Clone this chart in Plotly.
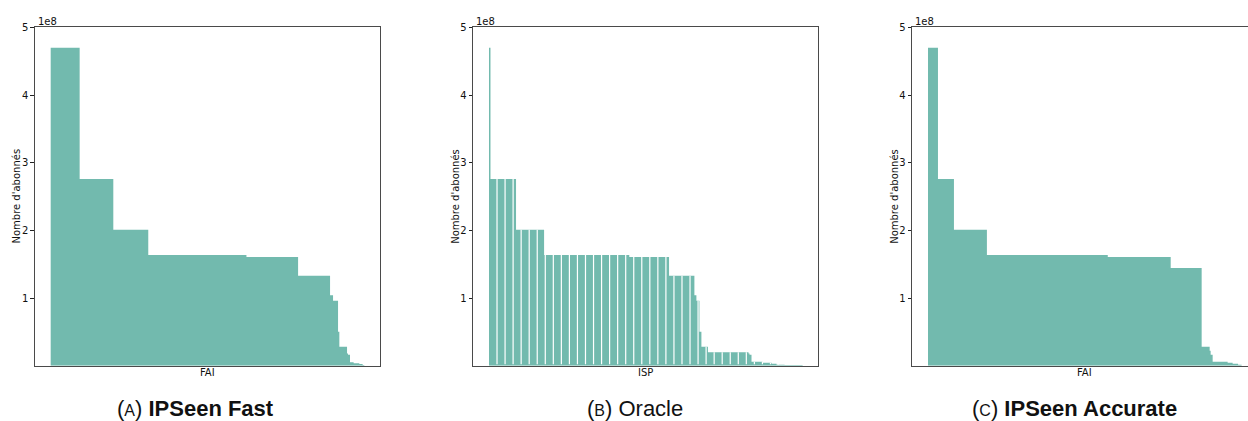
import numpy as np
import plotly.graph_objects as go

# ---------------- data (subscriber counts in units of 1e8, bar widths = share of ISPs) -------------
fast_heights = [4.70, 2.76, 2.01, 1.635, 1.605, 1.33, 1.04, 0.96, 0.50, 0.28, 0.18, 0.16, 0.05, 0.035, 0.025, 0.01]
fast_widths = [29, 33.7, 35, 98.3, 51.7, 32, 3, 5, 1.3, 7.7, 1, 2, 3.6, 5.7, 3.3, 1.7]

oracle_heights = [4.70, 2.76, 2.01, 1.635, 1.605, 1.33, 1.04, 0.96, 0.50, 0.28, 0.20, 0.18, 0.16,
                  0.058, 0.044, 0.03, 0.015, 0.01]
oracle_widths = [1.5, 25.5, 28, 85, 39.7, 25.3, 2, 3, 2, 6.5, 40.5, 1, 2, 11, 9, 5, 8, 18]
oracle_isp_count = 39

accurate_heights = [4.70, 2.76, 2.01, 1.635, 1.605, 1.445, 0.28, 0.22, 0.16, 0.058, 0.044, 0.03, 0.015]
accurate_widths = [10, 16, 33, 121, 63, 31, 8, 1, 2, 15, 5, 5.5, 3.5]

y_scale = 1e8
y_tick_values = [1, 2, 3, 4, 5]
y_tick_labels = ["1", "2", "3", "4", "5"]
x_labels = ["FAI", "ISP", "FAI"]
captions = ["(<span style='font-size:16px'>A</span>) <b>IPSeen Fast</b>",
            "(<span style='font-size:16px'>B</span>) Oracle",
            "(<span style='font-size:16px'>C</span>) <b>IPSeen Accurate</b>"]
y_title = "Nombre d'abonnés"

# ---------------- layout constants ----------------
W, H = 1248, 421
BAR = "#72baae"
SPINE = "#4a4a4a"
FONT = "DejaVu Sans"
panel_left = [35.0, 473.3, 912.3]
panel_w = 345.0
top_px, bot_px = 22.7, 365.0
caption_x = [195, 634.5, 1074]

fig = go.Figure()

series = [(fast_heights, fast_widths), (oracle_heights, oracle_widths), (accurate_heights, accurate_widths)]
annotations = []
shapes = []

for i, (hts, wds) in enumerate(series):
    idx = "" if i == 0 else str(i + 1)
    edges = np.concatenate([[0.0], np.cumsum(wds)])
    S = edges[-1]
    hts_abs = [h * y_scale for h in hts]
    ys = hts_abs + [hts_abs[-1]]
    fig.add_trace(go.Scatter(
        x=edges, y=ys, mode="lines", line=dict(width=0, shape="hv"),
        fill="tozeroy", fillcolor=BAR, hoverinfo="skip", showlegend=False,
        xaxis="x" + idx, yaxis="y" + idx))

    left = panel_left[i]
    right = left + panel_w
    r0 = -0.05 * S
    full_span = 1.1 * S
    if right > W:
        vis = W - left
        right_px = W
        r1 = r0 + full_span * vis / panel_w
    else:
        right_px = right
        r1 = r0 + full_span

    fig.layout["xaxis" + idx] = dict(
        domain=[left / W, right_px / W], range=[r0, r1], anchor="y" + idx,
        showline=True, mirror=True, linecolor=SPINE, linewidth=1.3,
        showticklabels=False, ticks="", showgrid=False, zeroline=False, fixedrange=True)
    fig.layout["yaxis" + idx] = dict(
        domain=[1 - bot_px / H, 1 - top_px / H], range=[0, 5 * y_scale], anchor="x" + idx,
        showline=True, mirror=(right <= W), linecolor=SPINE, linewidth=1.3,
        tickvals=[v * y_scale for v in y_tick_values], ticktext=y_tick_labels,
        ticks="outside", ticklen=3.5, tickwidth=0.8, tickcolor="#222",
        tickfont=dict(family=FONT, size=10, color="#111"),
        showgrid=False, zeroline=False, fixedrange=True)

    # offset text "1e8"
    annotations.append(dict(x=(left + 1) / W, y=1 - 17 / H, xref="paper", yref="paper",
                            text="1e8", showarrow=False, xanchor="left", yanchor="middle",
                            font=dict(family=FONT, size=10, color="#111")))
    # y title
    annotations.append(dict(x=(left - 18) / W, y=1 - ((top_px + bot_px) / 2) / H, xref="paper", yref="paper",
                            text=y_title, showarrow=False, textangle=-90, xanchor="center", yanchor="middle",
                            font=dict(family=FONT, size=10, color="#111")))
    # x label
    annotations.append(dict(x=(left + panel_w / 2) / W, y=1 - 371.5 / H, xref="paper", yref="paper",
                            text=x_labels[i], showarrow=False, xanchor="center", yanchor="middle",
                            font=dict(family=FONT, size=10, color="#111")))
    # caption
    annotations.append(dict(x=caption_x[i] / W, y=1 - 408 / H, xref="paper", yref="paper",
                            text=captions[i], showarrow=False, xanchor="center", yanchor="middle",
                            font=dict(family="Liberation Sans", size=22, color="#111")))

    # white ISP separators for the oracle panel
    if i == 1:
        slot = S / oracle_isp_count
        for k in range(1, oracle_isp_count):
            xk = k * slot
            j = int(np.searchsorted(edges, xk, side="right") - 1)
            if j < 0 or j >= len(hts_abs):
                continue
            hk = hts_abs[j]
            if abs(edges[j] - xk) < 1e-9 and j > 0:
                hk = max(hk, hts_abs[j - 1])
            shapes.append(dict(type="line", xref="x2", yref="y2", x0=xk, x1=xk,
                               y0=0.004 * 5 * y_scale, y1=hk,
                               line=dict(color="white", width=1.2), layer="above"))

fig.update_layout(
    width=W, height=H, autosize=False,
    margin=dict(l=0, r=0, t=0, b=0),
    paper_bgcolor="white", plot_bgcolor="white",
    annotations=annotations, shapes=shapes, showlegend=False)

post = ("document.body.style.margin='0';document.body.style.overflow='hidden';"
        "var g=document.getElementsByClassName('plotly-graph-div')[0];"
        "g.style.position='absolute';g.style.top='0px';g.style.left='0px';")
fig.write_html("out.html", config={"displayModeBar": False}, post_script=post)
